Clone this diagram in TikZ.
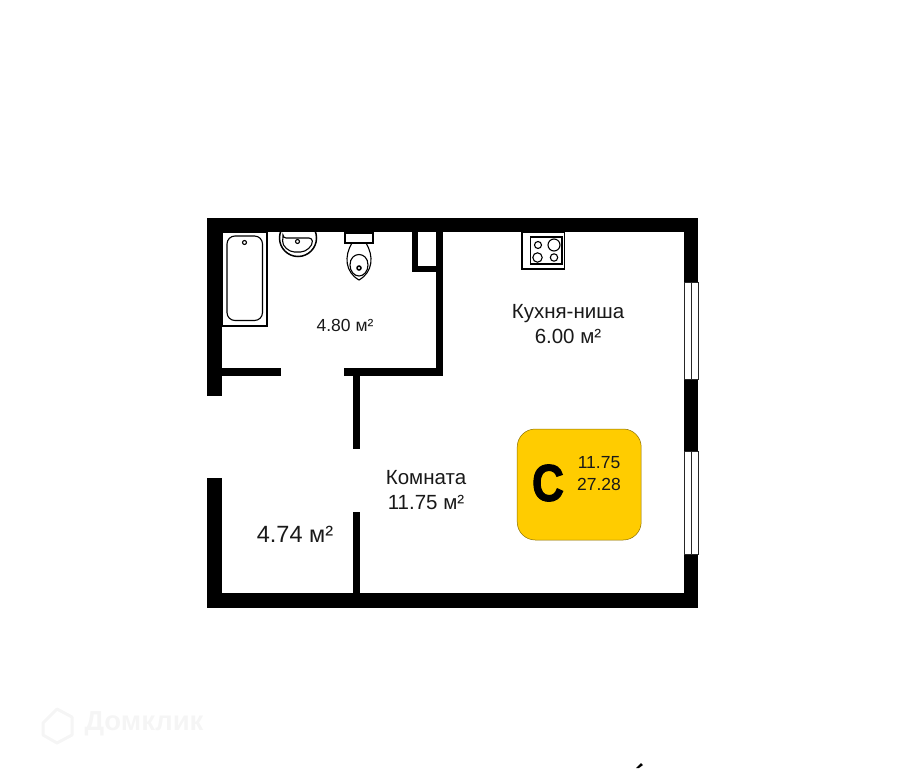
\documentclass[tikz,border=0pt]{standalone}
\usepackage{fontspec}
\setmainfont{Liberation Sans}
\newfontfamily\badgefont[FakeStretch=0.85,FakeBold=2]{Liberation Sans}
\usetikzlibrary{shapes}
\definecolor{badgeyellow}{HTML}{FFCC00}
\tikzset{
	wall/.style = {fill=black, draw=none},
	fixture/.style = {draw=black, fill=white, line width=1.1pt},
	glass/.style = {draw=black!85, fill=white, line width=1pt},
	roomlabel/.style = {align=center, inner sep=0pt, text centered,
		font=\fontsize{20.5}{25.5}\selectfont, text=black!90},
	arealabel/.style = {inner sep=0pt, font=\fontsize{17.5}{20}\selectfont, text=black!90},
	badge/.style = {rectangle, rounded corners=18pt, fill=badgeyellow, draw=badgeyellow!55!black,
		line width=0.5pt, minimum width=124pt, minimum height=111pt, inner sep=0pt}
}

\begin{document}
\begin{tikzpicture}[x=1pt,y=-1pt]
	\useasboundingbox (0,0) rectangle (909,768);
	% outer walls
	\fill[wall] (207,218) rectangle (698,232);
	\fill[wall] (207,218) rectangle (222,396);
	\fill[wall] (207,478) rectangle (222,608);
	\fill[wall] (207,593) rectangle (698,608);
	\fill[wall] (684,218) rectangle (698,593);
	% inner walls
	\fill[wall] (222,368) rectangle (281,376);
	\fill[wall] (344,368) rectangle (443,376);
	\fill[wall] (436,232) rectangle (443,376);
	\fill[wall] (412,232) rectangle (418,272);
	\fill[wall] (412,266) rectangle (436,272);
	\fill[wall] (353,376) rectangle (360,449);
	\fill[wall] (353,512) rectangle (360,593);
	% windows
	\foreach \ytop/\ybot in {282/379, 451/554}{
		\draw[glass] (684.5,\ytop) rectangle (698,\ybot);
		\draw[glass] (691,\ytop) -- (691,\ybot);
	}
	% bath
	\draw[fixture] (222.5,232) rectangle (267,326);
	\draw[fixture, rounded corners=8pt] (227,236) rectangle (262.5,320.5);
	\draw[fixture] (244.5,242.5) circle (2pt);
	% sink
	\begin{scope}
		\clip (270,232) rectangle (325,265);
		\draw[fixture, line width=1.5pt] (298,238) ellipse (18.5pt and 18.5pt);
	\end{scope}
	\draw[fixture, rounded corners=3pt] (283,238) -- (312,238) .. controls (313,246) and (306,252) .. (297.5,252)
		.. controls (289,252) and (282,246) .. (283,238) -- cycle;
	\draw[fixture] (297.5,241.5) circle (2pt);
	% toilet
	\draw[fixture] (352,243) .. controls (344,256) and (345,272) .. (359,280)
		.. controls (373,272) and (374,256) .. (366,243) -- cycle;
	\draw[fixture] (345,233) rectangle (373,243);
	\draw[fixture] (350,265) .. controls (350,251) and (368,251) .. (368,265)
		.. controls (368,271) and (364,276) .. (359,276) .. controls (354,276) and (350,271) .. (350,265) -- cycle;
	\draw[fixture, line width=1.5pt] (359,268) circle (2pt);
	% stove
	\draw[fixture] (522,232) rectangle (564.5,269);
	\draw[fixture] (530.5,237) rectangle (562,264);
	\draw[fixture] (538,245) circle (3.5pt);
	\draw[fixture] (554,245) circle (6pt);
	\draw[fixture] (537.5,257.5) circle (4.7pt);
	\draw[fixture] (554,257.5) circle (3.7pt);
	% labels
	\node[arealabel] (bathlabel) at (345,325) {4.80 м²};
	\node[roomlabel] (kitchenlabel) at (568,324) {Кухня-ниша\\6.00 м²};
	\node[roomlabel] (roomname) at (426,490) {Комната\\11.75 м²};
	\node[arealabel, font=\fontsize{23.5}{26}\selectfont] (hallabel) at (295,534) {4.74 м²};
	% badge
	\node[badge] (flatbadge) at (579.2,484.5) {};
	\node[inner sep=0pt, font=\badgefont\fontsize{52}{52}\selectfont\bfseries] (flattype) at (548,483) {C};
	\node[inner sep=0pt, align=center, font=\fontsize{17.5}{22}\selectfont, text=black!90] (flatarea) at (599,474) {11.75\\27.28};
	% watermark
	\draw[black!4, line width=3pt, line join=round] (43,723) -- (57,709) -- (72,717) -- (72,735) -- (57,743) -- (43,735) -- cycle;
	\node[inner sep=0pt, font=\fontsize{27.5}{28}\selectfont\bfseries, text=black!4] (watermark) at (144,724) {Домклик};
	\fill (636,768) -- (641,763) -- (643,765) -- (639,768) -- cycle;
\end{tikzpicture}
\end{document}
